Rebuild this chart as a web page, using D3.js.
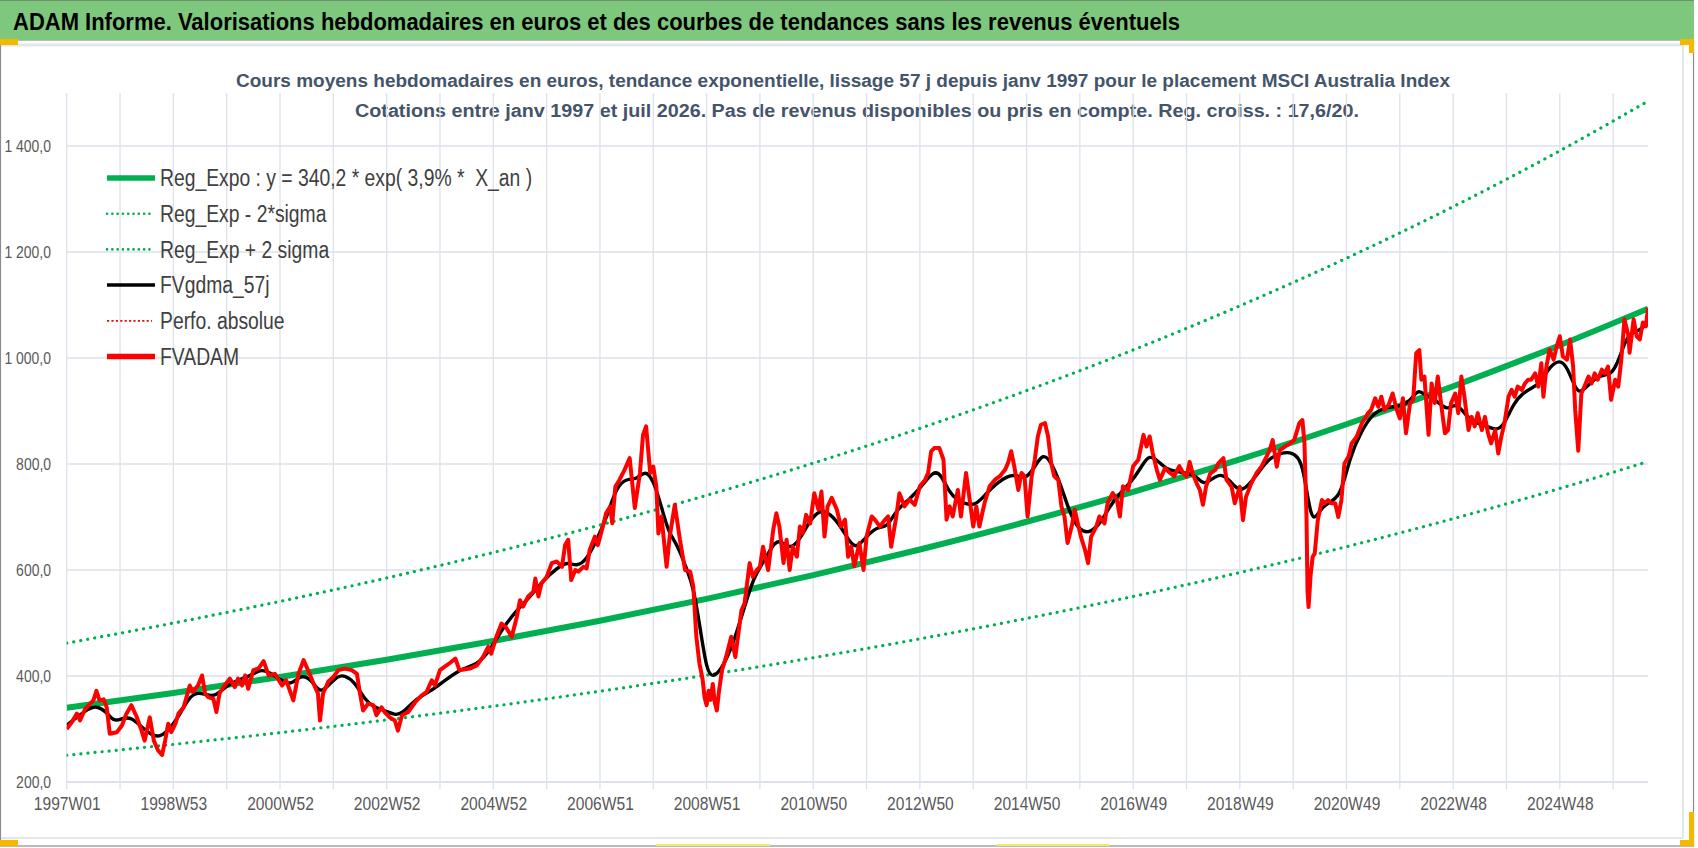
<!DOCTYPE html>
<html><head><meta charset="utf-8">
<script src="https://cdn.jsdelivr.net/npm/d3@7"></script>
<style>
body{margin:0;background:#fff;}
svg{display:block;}
text{font-family:'Liberation Sans',Arial,'DejaVu Sans',sans-serif;}
</style></head><body>
<svg id="c" width="1698" height="848"></svg>
<script>
// ---------------- DATA ----------------
const titleText = "ADAM Informe. Valorisations hebdomadaires en euros et des courbes de tendances sans les revenus éventuels";
const subtitleLines = [
  "Cours moyens hebdomadaires en euros, tendance exponentielle, lissage 57 j depuis janv 1997 pour le placement MSCI Australia Index",
  "Cotations entre janv 1997 et juil 2026. Pas de revenus disponibles ou pris en compte. Reg. croiss. : 17,6/20."
];
const xTickLabels = ["1997W01","1998W53","2000W52","2002W52","2004W52","2006W51","2008W51","2010W50","2012W50","2014W50","2016W49","2018W49","2020W49","2022W48","2024W48"];
const weeksPerLabel = 104;
const weeksPerGrid = 52;
const lastWeek = 1542;
const yTicks = [200,400,600,800,1000,1200,1400];
const yDomain = [200,1500];
const legendLabels = ["Reg_Expo : y = 340,2 * exp( 3,9% *  X_an )","Reg_Exp - 2*sigma","Reg_Exp + 2 sigma","FVgdma_57j","Perfo. absolue","FVADAM"];

// trend curves (values read at these week indices)
const trendWeeks = [0,104,208,312,416,520,624,728,832,936,1040,1144,1248,1352,1456,1542];
const regExpo  = [340.2,368.1,398.2,430.8,466.1,504.3,545.6,590.3,638.7,691.0,747.6,808.8,875.0,946.7,1024.2,1093.2];
const regPlus  = [462.0,499.9,540.8,585.0,633.0,684.8,740.9,801.6,867.3,938.4,1015.2,1098.4,1188.3,1285.6,1390.9,1484.6];
const regMinus = [250.4,270.9,293.1,317.1,343.0,371.2,401.6,434.5,470.1,508.6,550.2,595.3,644.0,696.8,753.8,804.6];

// FVADAM weekly prices (week index, value)
const fvWeeks = [0,5,10,13,18,26,29,32,36,39,42,49,54,58,63,68,73,76,81,85,89,93,96,99,102,106,109,114,120,123,128,132,135,138,143,146,149,154,159,164,167,171,174,177,182,187,192,197,203,210,214,221,226,231,236,240,245,247,250,255,260,265,271,278,283,286,289,294,299,302,307,310,315,320,323,327,333,340,346,351,356,359,364,369,374,379,383,393,400,406,411,414,419,424,428,434,439,442,445,450,455,457,460,463,468,473,478,483,486,489,492,496,499,504,507,510,515,518,522,526,530,532,535,539,544,549,554,559,562,565,569,572,575,577,580,585,588,593,598,603,608,611,614,617,620,622,624,626,628,630,632,634,636,639,643,648,652,658,661,666,669,673,676,679,684,689,692,695,699,702,705,708,712,715,718,721,725,729,733,736,739,742,746,751,755,759,762,765,768,773,777,780,785,788,793,798,801,804,809,812,817,822,827,832,837,840,843,846,851,855,858,861,864,869,872,877,881,884,887,890,895,900,905,910,915,918,921,924,928,931,934,937,941,944,947,950,954,957,960,963,967,970,973,976,980,983,986,989,993,996,999,1004,1007,1012,1015,1020,1024,1027,1030,1035,1040,1045,1050,1053,1056,1059,1063,1066,1071,1076,1080,1085,1089,1092,1095,1098,1102,1105,1108,1111,1115,1120,1123,1128,1131,1136,1139,1144,1147,1150,1155,1160,1165,1170,1173,1176,1180,1183,1188,1193,1197,1202,1205,1207,1209,1210,1211,1213,1215,1217,1220,1224,1227,1230,1233,1237,1240,1243,1246,1250,1253,1258,1263,1266,1269,1272,1276,1279,1282,1285,1289,1293,1297,1300,1303,1306,1310,1313,1316,1319,1321,1324,1328,1331,1334,1337,1341,1344,1347,1350,1354,1357,1360,1363,1367,1370,1373,1376,1380,1383,1386,1389,1393,1396,1399,1402,1406,1409,1412,1415,1419,1422,1425,1428,1432,1435,1438,1440,1443,1446,1450,1453,1456,1459,1463,1466,1469,1471,1474,1477,1480,1484,1487,1490,1493,1497,1500,1503,1506,1510,1513,1516,1519,1523,1524,1528,1531,1534,1537,1540,1542];
const fvValues = [300,313,329,316,338,354,372,354,356,341,291,294,307,328,345,324,297,278,322,278,260,251,278,310,294,310,329,341,382,370,382,401,367,360,357,332,367,382,395,379,395,382,401,376,411,414,428,401,404,382,392,354,404,430,408,389,367,316,367,389,398,411,414,411,404,367,335,348,345,326,341,332,322,316,297,326,332,351,363,370,392,382,411,418,425,433,411,414,420,436,455,442,474,499,493,474,512,543,531,550,559,584,550,575,587,613,616,606,647,657,581,600,597,606,603,638,663,647,676,707,720,688,757,770,789,811,717,783,855,871,783,795,757,669,701,606,663,723,657,600,597,569,474,424,395,360,345,372,355,385,350,335,370,411,436,474,436,524,537,613,587,600,606,644,600,676,707,682,613,657,600,644,625,682,670,704,688,745,714,748,663,720,736,714,682,695,625,644,607,651,600,663,701,695,682,695,701,644,701,745,720,733,723,758,770,783,824,830,830,808,695,720,701,751,701,783,726,682,720,682,726,758,770,777,789,802,824,796,751,783,777,701,777,808,852,874,877,852,802,777,770,720,701,651,682,714,688,663,638,613,663,682,701,688,726,745,733,701,758,751,796,808,855,833,852,821,789,770,792,783,777,796,782,776,804,782,763,751,723,757,782,789,801,811,770,757,726,757,694,738,763,782,795,814,826,845,795,826,833,839,845,877,883,839,700,560,530,590,625,631,694,732,726,732,726,726,700,732,801,814,839,852,877,886,896,902,924,908,927,902,911,933,902,886,924,858,915,921,1009,1015,959,965,855,952,915,965,902,858,864,915,933,896,965,927,864,889,871,896,864,889,858,839,864,820,852,877,927,940,927,946,940,952,959,959,971,946,990,927,984,1016,997,1022,1041,1003,997,1035,984,902,825,933,946,965,952,971,959,978,971,984,921,959,946,997,1073,1041,1010,1073,1041,1035,1067,1060,1095];

// FVgdma_57j smoothed curve (week index, value)
const gdmaWeeks = [0,18,29,39,46,55,63,73,83,91,99,109,119,128,138,146,156,167,180,190,200,209,219,229,239,247,255,265,271,281,291,300,310,320,327,336,346,359,383,400,413,426,439,452,465,478,488,497,507,517,527,536,546,556,564,572,579,587,595,605,611,618,624,630,640,650,660,670,679,689,696,705,715,725,735,744,754,764,770,780,790,800,809,822,835,845,852,861,868,878,887,897,907,917,926,936,946,952,959,969,978,988,998,1008,1017,1027,1040,1050,1056,1063,1073,1082,1092,1102,1108,1118,1125,1134,1144,1154,1164,1173,1183,1193,1201,1206,1211,1216,1225,1242,1251,1263,1274,1287,1300,1310,1318,1326,1336,1346,1355,1365,1375,1385,1394,1401,1411,1420,1430,1437,1446,1456,1463,1471,1476,1485,1495,1505,1511,1518,1524,1534,1542];
const gdmaValues = [307,335,345,332,313,321,322,304,288,285,297,322,360,370,363,363,382,392,401,414,404,392,382,404,392,367,382,401,401,389,354,341,335,326,329,348,363,376,414,420,449,493,524,550,581,603,616,606,619,657,701,757,773,770,789,770,726,669,650,600,569,487,411,395,417,461,524,587,613,650,657,638,657,695,714,707,685,651,641,663,682,679,714,733,761,786,783,745,733,723,723,745,764,777,780,770,802,818,808,764,707,673,670,688,720,745,770,802,816,808,789,786,783,777,760,773,782,770,745,763,789,811,820,823,814,789,726,687,726,732,814,864,896,908,908,918,943,927,921,899,918,889,877,871,864,871,915,934,945,952,984,997,984,943,933,952,968,968,984,1022,1048,1051,1067];

// ---------------- CHART ----------------
const svg = d3.select("#c");
const W = 1698, H = 848;
const plot = {left:66.7, right:1648, top:93, bottom:782};

const x = d3.scaleLinear().domain([0,lastWeek]).range([plot.left,plot.right]);
const y = d3.scaleLinear().domain(yDomain).range([plot.bottom,plot.top]);
const fr = d3.formatLocale({decimal:",",thousands:"\u00a0",grouping:[3],currency:["","€"]});
const fmt = fr.format(",.1f");

// squeeze text horizontally to mimic a condensed font
function squeeze(sel, k){
  sel.each(function(){
    const L = this.getComputedTextLength();
    d3.select(this).attr("textLength", L*k).attr("lengthAdjust","spacingAndGlyphs");
  });
}

// chart frame
svg.append("rect").attr("x",0).attr("y",0).attr("width",W).attr("height",H).attr("fill","#fff");
svg.append("rect").attr("x",0.5).attr("y",40).attr("width",1693).attr("height",806).attr("fill","#fff").attr("stroke","#8c8c8c").attr("stroke-width",1.2);
svg.append("line").attr("x1",1).attr("x2",1683).attr("y1",45).attr("y2",45).attr("stroke","#e3e6ea").attr("stroke-width",3);
svg.append("line").attr("x1",1683).attr("x2",1683).attr("y1",45).attr("y2",838).attr("stroke","#e3e6ea").attr("stroke-width",2);
svg.append("line").attr("x1",1).attr("x2",1683).attr("y1",838).attr("y2",838).attr("stroke","#e3e6ea").attr("stroke-width",2);

// title banner
svg.append("rect").attr("x",0).attr("y",0).attr("width",1694).attr("height",40).attr("fill","#7ec87e");
svg.append("line").attr("x1",0).attr("x2",1694).attr("y1",0.5).attr("y2",0.5).attr("stroke","#6f8f6f");
svg.append("text").attr("x",13).attr("y",30).attr("font-size",23).attr("font-weight","bold").attr("fill","#000")
  .attr("textLength",1167).attr("lengthAdjust","spacingAndGlyphs").text(titleText);

// selection handles (orange/yellow marks)
const orange = "#f5b800";
svg.append("rect").attr("x",0).attr("y",39).attr("width",18).attr("height",6).attr("fill",orange);
svg.append("rect").attr("x",1680).attr("y",39).attr("width",14).attr("height",6).attr("fill",orange);
svg.append("rect").attr("x",1689).attr("y",39).attr("width",5).attr("height",14).attr("fill",orange);
svg.append("rect").attr("x",1689).attr("y",812).attr("width",5).attr("height",34).attr("fill",orange);
svg.append("rect").attr("x",1680).attr("y",840).attr("width",14).attr("height",6).attr("fill",orange);
svg.append("rect").attr("x",0).attr("y",840).attr("width",18).attr("height",6).attr("fill",orange);
svg.append("rect").attr("x",656).attr("y",844).attr("width",114).attr("height",2).attr("fill","#f7e76a");
svg.append("rect").attr("x",996).attr("y",844).attr("width",114).attr("height",2).attr("fill","#f7e76a");

// subtitle
const subColor = "#44546a";
svg.append("text").attr("x",236).attr("y",87).attr("font-size",18).attr("font-weight","bold").attr("fill",subColor)
  .attr("textLength",1214).attr("lengthAdjust","spacingAndGlyphs").text(subtitleLines[0]);
svg.append("text").attr("x",355).attr("y",117).attr("font-size",18).attr("font-weight","bold").attr("fill",subColor)
  .attr("textLength",1004).attr("lengthAdjust","spacingAndGlyphs").text(subtitleLines[1]);

// gridlines
const gridColor = "#dde2ea";
const g = svg.append("g");
g.selectAll("line.h").data(yTicks).join("line")
  .attr("x1",plot.left).attr("x2",plot.right)
  .attr("y1",d=>y(d)).attr("y2",d=>y(d))
  .attr("stroke",gridColor).attr("stroke-width",d=>d===yDomain[0]?2:1.3);
const vWeeks = d3.range(0,lastWeek+1,weeksPerGrid);
g.selectAll("line.v").data(vWeeks).join("line")
  .attr("x1",d=>x(d)).attr("x2",d=>x(d))
  .attr("y1",plot.top).attr("y2",plot.bottom+7)
  .attr("stroke",gridColor).attr("stroke-width",1.3);

// y axis labels
const yAxis = d3.axisLeft(y).tickValues(yTicks).tickFormat(fmt).tickSize(0).tickPadding(0);
const ya = svg.append("g").attr("transform","translate(51,0)").call(yAxis);
ya.select(".domain").remove();
ya.selectAll("text").attr("font-size",17).attr("fill","#595959").attr("font-family",null).call(squeeze,0.82);

// x axis labels
const xTickWeeks = xTickLabels.map((d,i)=>i*weeksPerLabel);
const xAxis = d3.axisBottom(x).tickValues(xTickWeeks).tickFormat((d,i)=>xTickLabels[i]).tickSize(0).tickPadding(0);
const xa = svg.append("g").attr("transform","translate(0,796)").call(xAxis);
xa.select(".domain").remove();
xa.selectAll("text").attr("font-size",19).attr("fill","#595959").attr("font-family",null).call(squeeze,0.82);

// clip
svg.append("clipPath").attr("id","clip").append("rect")
  .attr("x",plot.left).attr("y",plot.top).attr("width",plot.right-plot.left).attr("height",plot.bottom-plot.top);
const lines = svg.append("g").attr("clip-path","url(#clip)");

const green = "#00b050";
const mk = (weeks) => d3.line().x((d,i)=>x(weeks[i])).y(d=>y(d));

lines.append("path").datum(regExpo).attr("d",mk(trendWeeks).curve(d3.curveMonotoneX))
  .attr("fill","none").attr("stroke",green).attr("stroke-width",6);
lines.append("path").datum(regMinus).attr("d",mk(trendWeeks).curve(d3.curveMonotoneX))
  .attr("fill","none").attr("stroke",green).attr("stroke-width",3.2).attr("stroke-linecap","round").attr("stroke-dasharray","0.1 7");
lines.append("path").datum(regPlus).attr("d",mk(trendWeeks).curve(d3.curveMonotoneX))
  .attr("fill","none").attr("stroke",green).attr("stroke-width",3.2).attr("stroke-linecap","round").attr("stroke-dasharray","0.1 7");
lines.append("path").datum(gdmaValues).attr("d",mk(gdmaWeeks).curve(d3.curveBasis))
  .attr("fill","none").attr("stroke","#000").attr("stroke-width",3.4).attr("stroke-linejoin","round");
lines.append("path").datum(fvValues).attr("d",mk(fvWeeks))
  .attr("fill","none").attr("stroke","#ff0000").attr("stroke-width",4).attr("stroke-linejoin","round");

// legend
const legendStyles = [
  {stroke:green, w:5.5, dash:null, cap:"butt"},
  {stroke:green, w:2.6, dash:"0.1 5.2", cap:"round"},
  {stroke:green, w:2.6, dash:"0.1 5.2", cap:"round"},
  {stroke:"#000", w:3.5, dash:null, cap:"butt"},
  {stroke:"#e0101a", w:1.8, dash:"2.2 2.2", cap:"butt"},
  {stroke:"#ff0000", w:5.5, dash:null, cap:"butt"}
];
const lg = svg.append("g");
const rowY = i => 178 + i*35.7;
legendLabels.forEach((lab,i)=>{
  const s = legendStyles[i];
  const dotted = s.dash !== null;
  lg.append("line").attr("x1",107).attr("x2",dotted?152:155).attr("y1",rowY(i)).attr("y2",rowY(i))
    .attr("stroke",s.stroke).attr("stroke-width",s.w).attr("stroke-linecap",s.cap)
    .attr("stroke-dasharray",s.dash);
  lg.append("text").attr("x",160).attr("y",rowY(i)).attr("dy","0.36em").attr("font-size",23)
    .attr("fill","#404040").style("white-space","pre").text(lab).call(squeeze,0.84);
});
</script>
</body></html>
